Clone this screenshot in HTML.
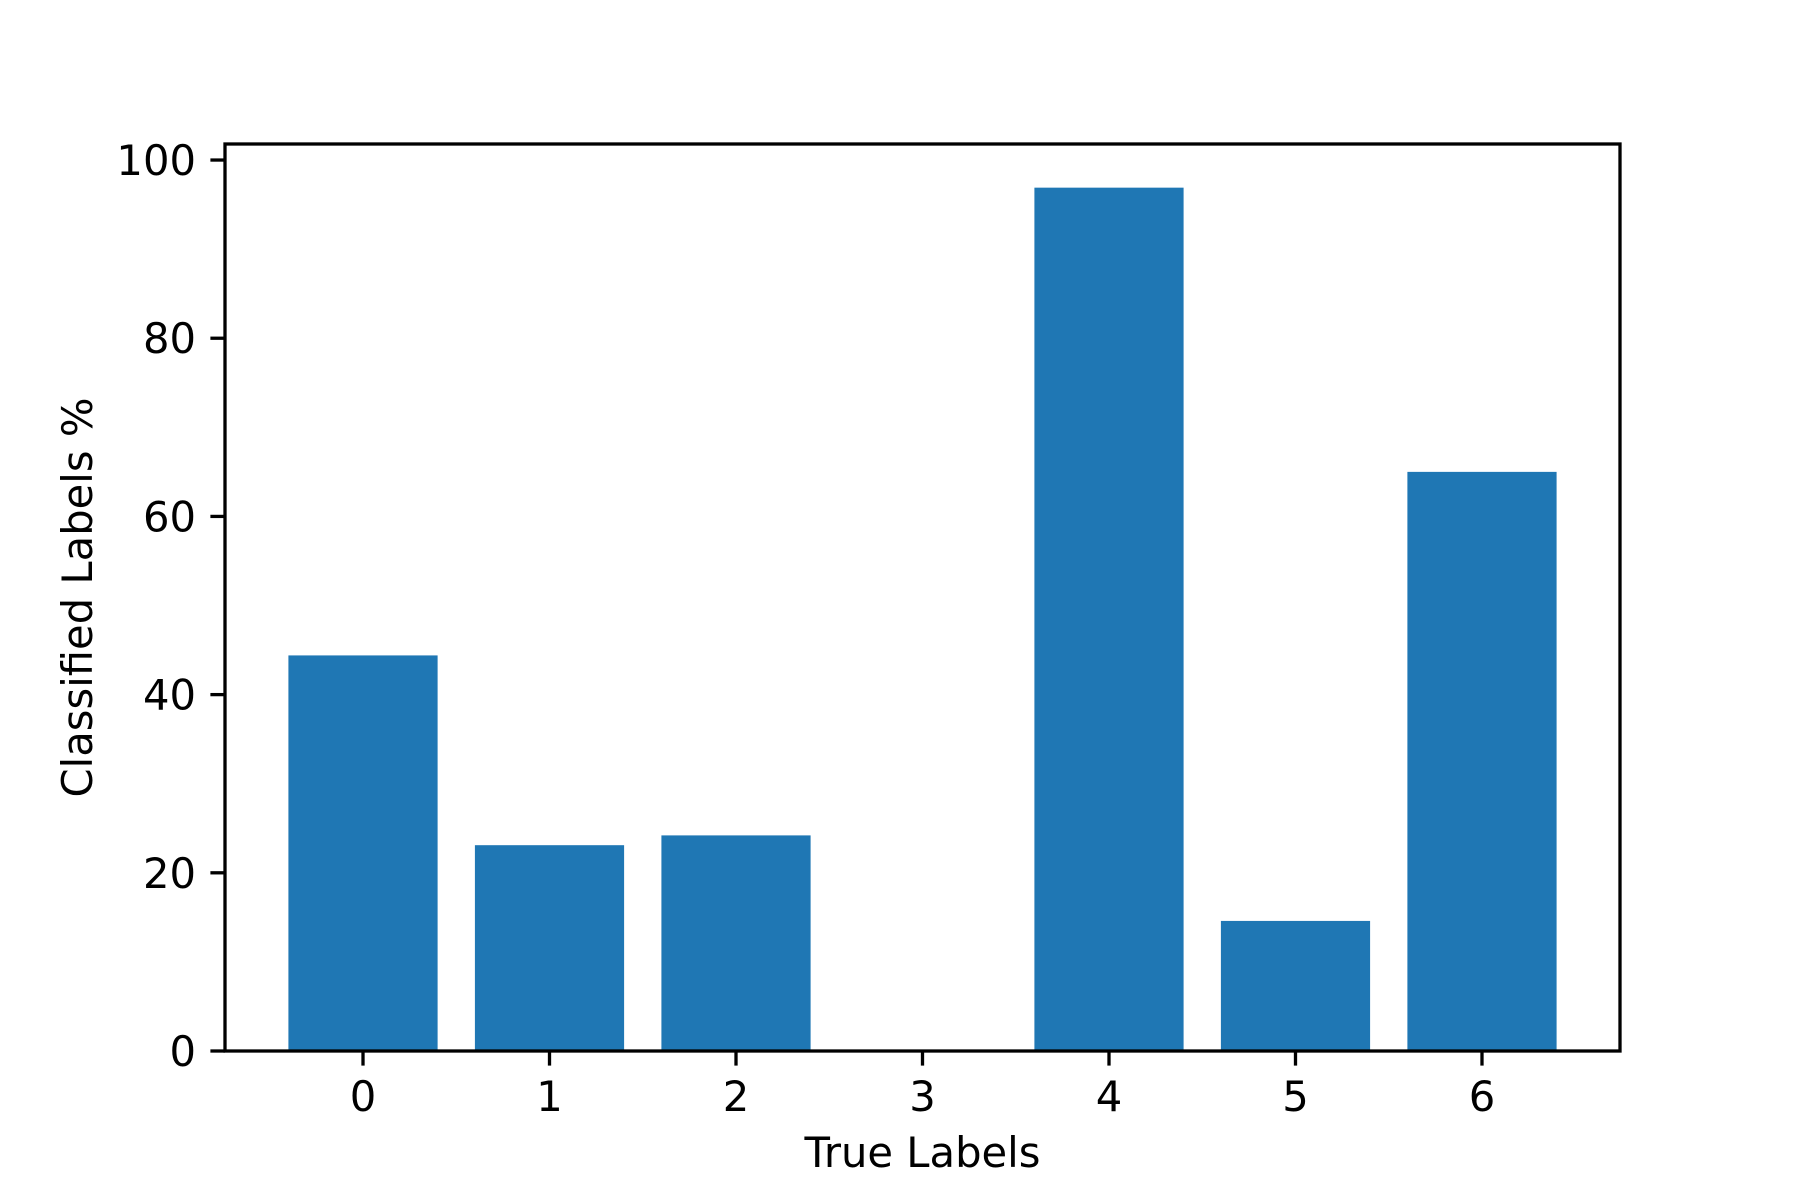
<!DOCTYPE html>
<html><head><meta charset="utf-8"><style>
html,body{margin:0;padding:0;background:#fff}
svg{display:block}
text{font-family:"DejaVu Sans","Liberation Sans",sans-serif;font-size:41.7px;fill:#000}
</style></head><body>
<svg id="chart" width="1800" height="1200" viewBox="0 0 1800 1200" xmlns="http://www.w3.org/2000/svg">
<rect x="0" y="0" width="1800" height="1200" fill="#fff"/>
<g id="bars"></g>
<g id="axes"></g>
</svg>
<script>
const categories = ["0","1","2","3","4","5","6"];
const values = [44.4, 23.1, 24.2, 0, 96.9, 14.6, 65.0];
const yTicks = [0, 20, 40, 60, 80, 100];

const L = 225, R = 1620, T = 144, B = 1051;
const xMin = -0.74, xMax = 6.74;
const yMin = 0, yMax = 101.8;
const xs = v => L + (v - xMin) / (xMax - xMin) * (R - L);
const ys = v => B - (v - yMin) / (yMax - yMin) * (B - T);
const NS = "http://www.w3.org/2000/svg";
function mk(tag, attrs, parent, txt) {
  const e = document.createElementNS(NS, tag);
  for (const k in attrs) e.setAttribute(k, attrs[k]);
  if (txt !== undefined) e.textContent = txt;
  parent.appendChild(e);
  return e;
}
const bars = document.getElementById('bars');
const axes = document.getElementById('axes');
values.forEach((v, i) => {
  const x0 = xs(i - 0.4), x1 = xs(i + 0.4);
  const r = mk('rect', {x: x0, y: ys(v), width: x1 - x0, height: ys(0) - ys(v), fill: '#1f77b4'}, bars);
  
  
});
categories.forEach((c, i) => {
  const x = xs(i);
  const t = mk('line', {x1: x, x2: x, y1: B, y2: B + 14.6, stroke: '#000', 'stroke-width': 3.3}, axes);
  
  
  const lb = mk('text', {x: x, y: B + 29 + 31, 'text-anchor': 'middle'}, axes, c);
  
  
});
yTicks.forEach(v => {
  const y = ys(v);
  const t = mk('line', {x1: L - 14.6, x2: L, y1: y, y2: y, stroke: '#000', 'stroke-width': 3.3}, axes);
  
  
  const lb = mk('text', {x: L - 29, y: y + 15, 'text-anchor': 'end'}, axes, String(v));
  
  
});
const frame = mk('rect', {x: L, y: T, width: R - L, height: B - T, fill: 'none', stroke: '#000', 'stroke-width': 3.3}, axes);


const xl = mk('text', {x: (L + R) / 2, y: 1167, 'text-anchor': 'middle'}, axes, 'True Labels');


const yl = mk('text', {x: 0, y: 0, 'text-anchor': 'middle', transform: 'translate(92,' + ((T + B) / 2) + ') rotate(-90)'}, axes, 'Classified Labels %');


</script>
</body></html>
